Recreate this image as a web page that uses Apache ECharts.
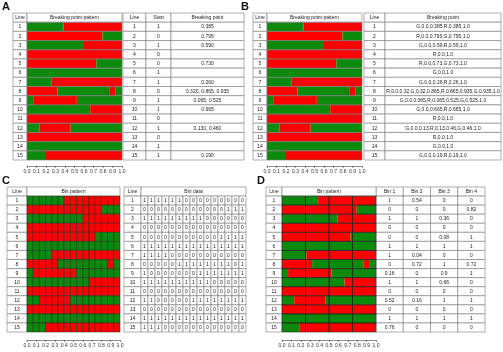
<!DOCTYPE html>
<html>
<head>
<meta charset="utf-8">
<script src="https://cdn.jsdelivr.net/npm/echarts@6/dist/echarts.min.js"></script>
<style>
  html, body { margin: 0; padding: 0; background: #fff; }
  #chart { width: 503px; height: 352px; }
</style>
</head>
<body>
<div id="chart"></div>
<script>
// ---- data ----
const lines = ['1', '2', '3', '4', '5', '6', '7', '8', '9', '10', '11', '12', '13', '14', '15']
// 1 = starts green, 0 = starts red
const startColor = [1, 0, 1, 0, 0, 1, 1, 0, 1, 1, 0, 1, 0, 1, 1]
const breakPoints = [[0.385], [0.795], [0.59], [], [0.73], [], [0.26], [0.32, 0.865, 0.935],
  [0.065, 0.525], [0.665], [], [0.13, 0.46], [], [], [0.19]]
const breakLabels = ['0.385', '0.795', '0.590', '', '0.730', '', '0.260', '0.320, 0.865, 0.935',
  '0.065, 0.525', '0.665', '', '0.130, 0.460', '', '', '0.190']
const segmentLabels = [
  'G,0.0,0.385,R,0.385,1.0',
  'R,0.0,0.795,G,0.795,1.0',
  'G,0.0,0.59,R,0.59,1.0',
  'R,0.0,1.0',
  'R,0.0,0.73,G,0.73,1.0',
  'G,0.0,1.0',
  'G,0.0,0.26,R,0.26,1.0',
  'R,0.0,0.32,G,0.32,0.865,R,0.865,0.935,G,0.935,1.0',
  'G,0.0,0.065,R,0.065,0.525,G,0.525,1.0',
  'G,0.0,0.665,R,0.665,1.0',
  'R,0.0,1.0',
  'G,0.0,0.13,R,0.13,0.46,G,0.46,1.0',
  'R,0.0,1.0',
  'G,0.0,1.0',
  'G,0.0,0.19,R,0.19,1.0'
]
const binData = [
  [1, 1, 1, 1, 1, 1, 0, 0, 0, 0, 0, 0, 0, 0, 0],
  [0, 0, 0, 0, 0, 0, 0, 0, 0, 0, 0, 0, 1, 1, 1],
  [1, 1, 1, 1, 1, 1, 1, 1, 1, 0, 0, 0, 0, 0, 0],
  [0, 0, 0, 0, 0, 0, 0, 0, 0, 0, 0, 0, 0, 0, 0],
  [0, 0, 0, 0, 0, 0, 0, 0, 0, 0, 0, 1, 1, 1, 1],
  [1, 1, 1, 1, 1, 1, 1, 1, 1, 1, 1, 1, 1, 1, 1],
  [1, 1, 1, 1, 0, 0, 0, 0, 0, 0, 0, 0, 0, 0, 0],
  [0, 0, 0, 0, 0, 1, 1, 1, 1, 1, 1, 1, 1, 0, 1],
  [1, 0, 0, 0, 0, 0, 0, 0, 1, 1, 1, 1, 1, 1, 1],
  [1, 1, 1, 1, 1, 1, 1, 1, 1, 1, 0, 0, 0, 0, 0],
  [0, 0, 0, 0, 0, 0, 0, 0, 0, 0, 0, 0, 0, 0, 0],
  [1, 1, 0, 0, 0, 0, 0, 1, 1, 1, 1, 1, 1, 1, 1],
  [0, 0, 0, 0, 0, 0, 0, 0, 0, 0, 0, 0, 0, 0, 0],
  [1, 1, 1, 1, 1, 1, 1, 1, 1, 1, 1, 1, 1, 1, 1],
  [1, 1, 1, 0, 0, 0, 0, 0, 0, 0, 0, 0, 0, 0, 0]
]
const binHeaders = ['Bin 1', 'Bin 2', 'Bin 3', 'Bin 4']
const binFractions = [
  [1, 0.54, 0, 0], [0, 0, 0, 0.82], [1, 1, 0.36, 0], [0, 0, 0, 0], [0, 0, 0.08, 1],
  [1, 1, 1, 1], [1, 0.04, 0, 0], [0, 0.72, 1, 0.72], [0.16, 0, 0.9, 1], [1, 1, 0.66, 0],
  [0, 0, 0, 0], [0.52, 0.16, 1, 1], [0, 0, 0, 0], [1, 1, 1, 1], [0.76, 0, 0, 0]
]

// ---- styles ----
const RED = '#ff0000'
const GREEN = '#0b8a0b'
const GRID_LINE = '#7a7a7a'
const FONT = '"Liberation Sans", Arial, sans-serif'
const ROWS = ['header'].concat(lines)

const grids = []
const xAxes = []
const yAxes = []
const series = []

function addGrid (left, right, top, bottom, xOpt) {
  const i = grids.length
  grids.push({ left: left, top: top, width: right - left, height: bottom - top })
  xAxes.push(Object.assign({ type: 'value', gridIndex: i, min: 0, max: 1, show: false }, xOpt || {}))
  yAxes.push({ type: 'category', gridIndex: i, data: ROWS, inverse: true, show: false })
  return i
}

// items: [x0, x1, row, fill, text, stroke, lineWidth]
function cellSeries (gi, items, z) {
  series.push({
    type: 'custom',
    xAxisIndex: gi,
    yAxisIndex: gi,
    z: z || 2,
    silent: true,
    data: items.map(function (c) { return [c[0], c[1], c[2]] }),
    renderItem: function (params, api) {
      const c = items[params.dataIndex]
      const p0 = api.coord([api.value(0), api.value(2)])
      const p1 = api.coord([api.value(1), api.value(2)])
      const h = api.size([0, 1])[1]
      const children = [{
        type: 'rect',
        shape: { x: p0[0], y: p0[1] - h / 2, width: p1[0] - p0[0], height: h },
        style: { fill: c[3] || 'none', stroke: c[5] === undefined ? GRID_LINE : c[5], lineWidth: c[6] || 0.6 }
      }]
      if (c[4]) {
        children.push({
          type: 'text',
          style: {
            text: c[4], x: (p0[0] + p1[0]) / 2, y: p0[1] + 0.3,
            align: 'center', verticalAlign: 'middle',
            fontSize: 5, fontFamily: FONT, fill: '#222'
          }
        })
      }
      return { type: 'group', children: children }
    }
  })
}

// a table block: colWidths relative, header cells [c0, c1, text], body cells rows x cols
function addTable (left, right, top, bottom, colWidths, headers, body) {
  const edges = [0]
  colWidths.forEach(function (w) { edges.push(edges[edges.length - 1] + w) })
  const gi = addGrid(left, right, top, bottom, { max: edges[edges.length - 1] })
  const items = []
  headers.forEach(function (h) { items.push([edges[h[0]], edges[h[1] + 1], 0, '#fff', h[2]]) })
  body.forEach(function (row, r) {
    row.forEach(function (txt, c) { items.push([edges[c], edges[c + 1], r + 1, '#fff', txt]) })
  })
  cellSeries(gi, items)
}

function patternAxis (offset) {
  return {
    show: true, min: 0, max: 1, interval: 0.1, position: 'bottom', offset: offset,
    axisLine: { show: true, lineStyle: { color: '#444', width: 0.6 } },
    axisTick: { show: true, length: 2, lineStyle: { color: '#444', width: 0.6 } },
    axisLabel: { fontSize: 5, margin: 3, color: '#333', fontFamily: FONT, formatter: function (v) { return v.toFixed(1) } },
    splitLine: { show: false }
  }
}

function segmentsOf (r) {
  const pts = [0].concat(breakPoints[r], [1])
  const out = []
  let g = startColor[r]
  for (let k = 0; k < pts.length - 1; k++) {
    out.push([pts[k], pts[k + 1], r + 1, g ? GREEN : RED, '', 'none'])
    g = 1 - g
  }
  return out
}

// breaking-point pattern (A, B) or 4-bin pattern (D)
function addSegmentPattern (left, right, top, bottom, title, axisOffset, binLines) {
  const gi = addGrid(left, right, top, bottom, patternAxis(axisOffset))
  let segs = []
  lines.forEach(function (l, r) { segs = segs.concat(segmentsOf(r)) })
  cellSeries(gi, segs, 2)
  const frame = [[0, 1, 0, '#fff', title]]
  lines.forEach(function (l, r) {
    if (binLines) {
      for (let b = 0; b < binLines; b++) frame.push([b / binLines, (b + 1) / binLines, r + 1, null, '', '#222', 0.6])
    } else {
      frame.push([0, 1, r + 1, null, '', GRID_LINE, 0.6])
    }
  })
  cellSeries(gi, frame, 3)
}

function addBinPattern (left, right, top, bottom, title, axisOffset) {
  const gi = addGrid(left, right, top, bottom, patternAxis(axisOffset))
  const n = binData[0].length
  const items = [[0, 1, 0, '#fff', title]]
  binData.forEach(function (row, r) {
    row.forEach(function (v, k) { items.push([k / n, (k + 1) / n, r + 1, v ? GREEN : RED, '', '#222', 0.5]) })
  })
  cellSeries(gi, items)
}

function lineColumn (left, right, top, bottom) {
  addTable(left, right, top, bottom, [1], [[0, 0, 'Line']], lines.map(function (l) { return [l] }))
}

// ---- Panel A ----
lineColumn(13, 27, 13, 160)
addSegmentPattern(27, 122, 13, 160, 'Breaking point pattern', 6)
addTable(123, 244, 13, 160, [23, 25, 73],
  [[0, 0, 'Line'], [1, 1, 'Start'], [2, 2, 'Breaking point']],
  lines.map(function (l, r) { return [l, String(startColor[r]), breakLabels[r]] }))

// ---- Panel B ----
lineColumn(253, 267, 13, 160)
addSegmentPattern(267, 362, 13, 160, 'Breaking point pattern', 6)
addTable(364, 501, 13, 160, [21, 116],
  [[0, 0, 'Line'], [1, 1, 'Breaking point']],
  lines.map(function (l, r) { return [l, segmentLabels[r]] }))

// ---- Panel C ----
lineColumn(7, 27, 187, 332)
addBinPattern(27, 120, 187, 332, 'Bin pattern', 8)
const binW = [17].concat(binData[0].map(function () { return 7 }))
addTable(124, 246, 187, 332, binW,
  [[0, 0, 'Line'], [1, binData[0].length, 'Bin data']],
  lines.map(function (l, r) { return [l].concat(binData[r].map(String)) }))

// ---- Panel D ----
lineColumn(266, 282, 187, 332)
addSegmentPattern(282, 376, 187, 332, 'Bin pattern', 8, binHeaders.length)
addTable(376, 485, 187, 332, [1, 1, 1, 1],
  binHeaders.map(function (h, i) { return [i, i, h] }),
  binFractions.map(function (row) { return row.map(String) }))

const panelLabel = function (t, x, y) {
  return { type: 'text', left: x, top: y, style: { text: t, fontSize: 11, fontWeight: 'bold', fontFamily: FONT, fill: '#111' } }
}

const chart = echarts.init(document.getElementById('chart'), null, { renderer: 'canvas' })
chart.setOption({
  animation: false,
  backgroundColor: '#fff',
  grid: grids,
  xAxis: xAxes,
  yAxis: yAxes,
  series: series,
  graphic: [panelLabel('A', 2, 1), panelLabel('B', 241, 1), panelLabel('C', 2, 175), panelLabel('D', 257, 175)]
})
</script>
</body>
</html>
